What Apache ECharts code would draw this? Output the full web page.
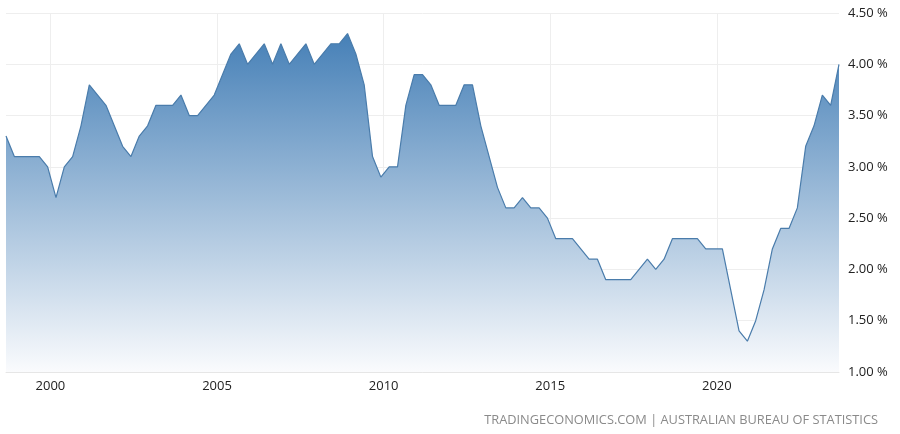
<!DOCTYPE html>
<html>
<head>
<meta charset="utf-8">
<script src="https://cdn.jsdelivr.net/npm/echarts@6/dist/echarts.min.js"></script>
<style>
html,body{margin:0;padding:0;background:#fff;}
#chart{width:900px;height:434px;}
</style>
</head>
<body>
<div id="chart"></div>
<script>
// Quarter-end months from Sep 1998 to Sep 2023
var startYear = 1998, startMonth = 9;
var values = [
  3.3, 3.1,
  3.1, 3.1, 3.1, 3.0,
  2.7, 3.0, 3.1, 3.4,
  3.8, 3.7, 3.6, 3.4,
  3.2, 3.1, 3.3, 3.4,
  3.6, 3.6, 3.6, 3.7,
  3.5, 3.5, 3.6, 3.7,
  3.9, 4.1, 4.2, 4.0,
  4.1, 4.2, 4.0, 4.2,
  4.0, 4.1, 4.2, 4.0,
  4.1, 4.2, 4.2, 4.3,
  4.1, 3.8, 3.1, 2.9,
  3.0, 3.0, 3.6, 3.9,
  3.9, 3.8, 3.6, 3.6,
  3.6, 3.8, 3.8, 3.4,
  3.1, 2.8, 2.6, 2.6,
  2.7, 2.6, 2.6, 2.5,
  2.3, 2.3, 2.3, 2.2,
  2.1, 2.1, 1.9, 1.9,
  1.9, 1.9, 2.0, 2.1,
  2.0, 2.1, 2.3, 2.3,
  2.3, 2.3, 2.2, 2.2,
  2.2, 1.8, 1.4, 1.3,
  1.5, 1.8, 2.2, 2.4,
  2.4, 2.6, 3.2, 3.4,
  3.7, 3.6, 4.0
];
var yearTicks = [2000, 2005, 2010, 2015, 2020];
var yTicks = [1.0, 1.5, 2.0, 2.5, 3.0, 3.5, 4.0, 4.5];
var sourceText = 'TRADINGECONOMICS.COM | AUSTRALIAN BUREAU OF STATISTICS';

var data = values.map(function (v, i) {
  var m = startMonth + i * 3;
  var y = startYear + Math.floor((m - 1) / 12);
  var mm = ((m - 1) % 12) + 1;
  return [y + (mm - 1) / 12, v];
});
var xMin = data[0][0], xMax = data[data.length - 1][0];

var chart = echarts.init(document.getElementById('chart'), null, {renderer: 'canvas'});
chart.setOption({
  animation: false,
  backgroundColor: '#fff',
  textStyle: {fontFamily: 'Open Sans'},
  grid: {left: 6, right: 61, top: 13, bottom: 62, containLabel: false, outerBoundsMode: 'none'},
  xAxis: {
    type: 'value',
    min: xMin,
    max: xMax,
    axisLine: {show: true, lineStyle: {color: '#e6e6e6', width: 1}},
    axisTick: {show: false, customValues: yearTicks},
    axisLabel: {
      customValues: yearTicks,
      color: '#222',
      fontSize: 13,
      fontFamily: 'Open Sans',
      margin: 8,
      formatter: function (v) { return String(Math.round(v)); }
    },
    splitLine: {show: true, lineStyle: {color: '#eeeeee', width: 1}}
  },
  yAxis: {
    type: 'value',
    position: 'right',
    min: yTicks[0],
    max: yTicks[yTicks.length - 1],
    interval: 0.5,
    axisLine: {show: false},
    axisTick: {show: false},
    axisLabel: {
      color: '#222',
      fontSize: 13,
      fontFamily: 'Open Sans',
      margin: 9,
      formatter: function (v) { return v.toFixed(2) + ' %'; }
    },
    splitLine: {show: true, lineStyle: {color: '#eeeeee', width: 1}}
  },
  series: [{
    type: 'line',
    data: data,
    symbol: 'none',
    smooth: false,
    lineStyle: {color: '#4a7cab', width: 1.2},
    areaStyle: {
      origin: 'start',
      opacity: 1,
      color: new echarts.graphic.LinearGradient(0, 0, 0, 1, [
        {offset: 0, color: '#4680b7'},
        {offset: 1, color: '#fafbfd'}
      ])
    }
  }],
  graphic: [{
    type: 'text',
    right: 22,
    top: 414,
    style: {
      text: sourceText,
      fill: '#8a8a8a',
      fontSize: 12.8,
      fontFamily: 'Open Sans'
    }
  }]
});
</script>
</body>
</html>
